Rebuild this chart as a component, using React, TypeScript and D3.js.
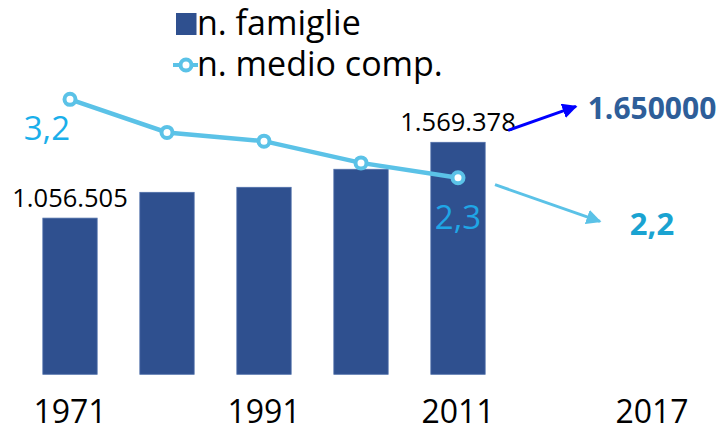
import React from "react";
import * as d3 from "d3";

// categories + values
const slots = ["1971", "1981", "1991", "2001", "2011", "gap", "2017"];
const years = ["1971", "1981", "1991", "2001", "2011"];
const tickYears = ["1971", "1991", "2011", "2017"];
const families = [1056505, 1231000, 1265000, 1387000, 1569378];
const members = [3.2, 2.82, 2.72, 2.47, 2.3];
const labelledFamilies = [0, 4];
const labelledMembers = [0, 4];

const projYear = "2017";
const projFamilies = 1650000;
const projFamiliesLabel = "1.650000";
const projMembers = 2.2;

const barColor = "#2F508F";
const lineColor = "#5BC2E7";
const FONT = "'Open Sans', sans-serif";

const it = d3.formatLocale({
  decimal: ",",
  thousands: ".",
  grouping: [3],
  currency: ["", "€"],
});
const fmtFam = it.format(",");
const fmtMem = it.format(".1f");

export default function App() {
  const width = 722;
  const height = 430;

  const x = d3
    .scaleBand()
    .domain(slots)
    .range([21.5, 700.5])
    .paddingInner(0.44)
    .paddingOuter(0.22);
  const cx = (s: string) => (x(s) as number) + x.bandwidth() / 2;

  const yBar = d3.scaleLinear().domain([0, 1700000]).range([374.3, 123]);
  const yLine = d3.scaleLinear().domain([0, 3.5]).range([378, 73.2]);

  const line = d3
    .line<number>()
    .x((d, i) => cx(years[i]))
    .y((d) => yLine(d));

  const last = years.length - 1;
  const pX = cx(projYear);

  // arrow ends (annotation, anchored on scales)
  const a1 = {
    x1: cx(years[last]) + x.bandwidth() / 2 + 23,
    y1: yBar(families[last]) - 12,
    x2: pX - 76,
    y2: yBar(projFamilies) - 24,
  };
  const a2 = {
    x1: cx(years[last]) + 37,
    y1: yLine(members[last]) + 7,
    x2: pX - 52,
    y2: yLine(projMembers) + 35,
  };

  return (
    <svg
      width={width}
      height={height}
      style={{ position: "absolute", left: 0, top: 0, background: "#fff" }}
      fontFamily={FONT}
    >
      <defs>
        <marker id="headBlue" viewBox="0 0 10 10" refX="9" refY="5" markerWidth="5" markerHeight="5" orient="auto">
          <path d="M0,0L10,5L0,10z" fill="#0000FF" />
        </marker>
        <marker id="headLight" viewBox="0 0 10 10" refX="9" refY="5" markerWidth="5" markerHeight="5" orient="auto">
          <path d="M0,0L10,5L0,10z" fill={lineColor} />
        </marker>
      </defs>

      {/* legend */}
      <rect x={176} y={13} width={20.5} height={22} fill={barColor} />
      <text x={197} y={35} fontSize={34} fill="#000">n. famiglie</text>
      <line x1={173} x2={198} y1={65} y2={65} stroke={lineColor} strokeWidth={4} />
      <circle cx={186} cy={65} r={5.5} fill="#fff" stroke={lineColor} strokeWidth={4} />
      <text x={197} y={76} fontSize={34} fill="#000">n. medio comp.</text>

      {/* bars */}
      {families.map((v, i) => (
        <rect
          key={years[i]}
          x={x(years[i])}
          y={yBar(v)}
          width={x.bandwidth()}
          height={yBar(0) - yBar(v)}
          fill={barColor}
          stroke="#4F6FAA"
          strokeWidth={0.8}
        />
      ))}
      {labelledFamilies.map((i) => (
        <text
          key={"fl" + i}
          x={cx(years[i])}
          y={yBar(families[i]) - 11}
          textAnchor="middle"
          fontSize={25.5}
          fill="#000"
        >
          {fmtFam(families[i])}
        </text>
      ))}

      {/* line */}
      <path d={line(members) || ""} fill="none" stroke={lineColor} strokeWidth={4.5} />
      {members.map((v, i) => (
        <circle
          key={"p" + i}
          cx={cx(years[i])}
          cy={yLine(v)}
          r={5.5}
          fill="#fff"
          stroke={lineColor}
          strokeWidth={4}
        />
      ))}
      <text
        x={cx(years[labelledMembers[0]])}
        y={yLine(members[labelledMembers[0]]) + 41}
        textAnchor="end"
        fontSize={33}
        fill="#1AAFEA"
      >
        {fmtMem(members[labelledMembers[0]])}
      </text>
      <text
        x={cx(years[labelledMembers[1]])}
        y={yLine(members[labelledMembers[1]]) + 51}
        textAnchor="middle"
        fontSize={33}
        fill="#1FA6E6"
      >
        {fmtMem(members[labelledMembers[1]])}
      </text>

      {/* projections */}
      <line {...a1} stroke="#0000FF" strokeWidth={3} markerEnd="url(#headBlue)" />
      <line {...a2} stroke={lineColor} strokeWidth={3} markerEnd="url(#headLight)" />
      <text
        x={pX}
        y={yBar(projFamilies) - 11}
        textAnchor="middle"
        fontSize={30}
        fontWeight="bold"
        fill="#2E5E99"
      >
        {projFamiliesLabel}
      </text>
      <text
        x={pX}
        y={yLine(projMembers) + 49}
        textAnchor="middle"
        fontSize={31}
        fontWeight="bold"
        fill="#1AA3D1"
      >
        {fmtMem(projMembers)}
      </text>

      {/* x axis labels */}
      {tickYears.map((t) => (
        <text key={t} x={cx(t)} y={423} textAnchor="middle" fontSize={32} fill="#000">
          {t}
        </text>
      ))}
    </svg>
  );
}
